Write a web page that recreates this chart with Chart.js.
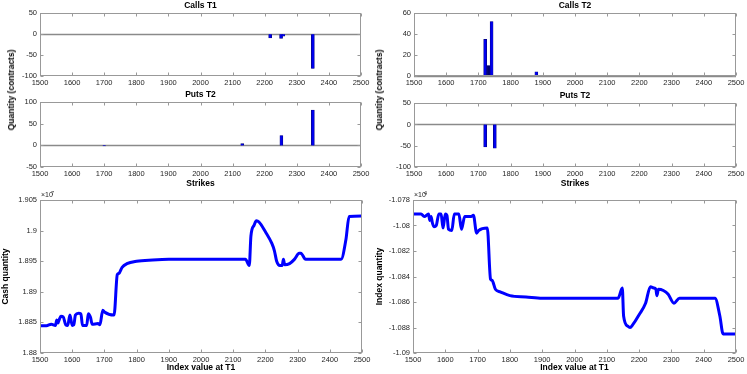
<!DOCTYPE html>
<html>
<head>
<meta charset="utf-8">
<script src="https://cdn.jsdelivr.net/npm/chart.js@4.4.0/dist/chart.umd.min.js"></script>
<style>
html, body { margin: 0; padding: 0; background: #fff; overflow: hidden; }
#wrap { position: relative; width: 747px; height: 374px; }
canvas { position: absolute; }
.ylab { position: absolute; font: bold 8.5px "Liberation Sans", Arial, sans-serif; color: #000;
        transform: translate(-50%, -50%) rotate(-90deg); white-space: nowrap; }
</style>
</head>
<body>
<div id="wrap">
  <canvas id="c1" width="374" height="90" style="left:0;top:0"></canvas>
  <canvas id="c2" width="373" height="90" style="left:374px;top:0"></canvas>
  <canvas id="c3" width="374" height="101" style="left:0;top:89px"></canvas>
  <canvas id="c4" width="373" height="100" style="left:374px;top:90px"></canvas>
  <canvas id="c5" width="374" height="184" style="left:0;top:190px"></canvas>
  <canvas id="c6" width="373" height="184" style="left:374px;top:190px"></canvas>
  <div class="ylab" style="left:11px;top:90px">Quantity (contracts)</div>
  <div class="ylab" style="left:379px;top:90px">Quantity (contracts)</div>
</div>
<script>
// option positions (strike, contracts)
const callsT1Strikes = [2217, 2251, 2258, 2350];
const callsT1Qty     = [-9, -10, -5, -82];
const callsT2Strikes = [1721, 1731, 1741, 1880];
const callsT2Qty     = [35, 10, 52, 4];
const putsT2LStrikes = [1700, 2130, 2252, 2350];
const putsT2LQty     = [-1, 4, 23, 82];
const putsT2RStrikes = [1721, 1751];
const putsT2RQty     = [-53, -56];

// cash quantity (x 1e7) against index value at T1
const cashX = [1500,1520,1535,1548,1552,1556,1560,1565,1572,1580,1586,1593,1600,1605,1610,1620,1627,1632,1645,1650,
               1657,1662,1680,1686,1695,1700,1730,1740,1745,1755,1770,1800,1850,1900,2000,2138,2150,2155,2165,2172,
               2180,2200,2220,2228,2235,2245,2252,2256,2260,2275,2290,2305,2310,2325,2435,2450,2460,2500];
const cashQty = [1.88446,1.88446,1.8847,1.8845,1.8854,1.8849,1.8855,1.8860,1.8859,1.8846,1.8845,1.8862,1.8845,1.8846,1.8862,1.8865,1.8864,1.8845,1.8845,1.8864,
                 1.8858,1.8847,1.8848,1.8846,1.8870,1.8867,1.8862,1.8928,1.8930,1.8940,1.8946,1.8950,1.8952,1.8953,1.8953,1.8953,1.8943,1.8991,1.9009,1.9016,
                 1.9014,1.8998,1.8979,1.8967,1.8950,1.8943,1.8943,1.8953,1.8944,1.8946,1.8953,1.8963,1.8963,1.8953,1.8953,1.8985,1.9023,1.9024];

// index quantity (x 1e4) against index value at T1
const idxX = [1500,1525,1535,1548,1552,1556,1560,1565,1572,1580,1587,1593,1600,1605,1610,1620,1628,1642,1650,1660,
              1680,1687,1697,1703,1730,1740,1745,1755,1770,1800,1850,1900,2000,2135,2148,2152,2165,2172,2180,2200,
              2220,2235,2245,2252,2255,2260,2275,2290,2308,2325,2435,2450,2460,2500];
const idxQty = [-1.0791,-1.0791,-1.0793,-1.0791,-1.0796,-1.0793,-1.0798,-1.0801,-1.0800,-1.0791,-1.0791,-1.0802,-1.0791,-1.0792,-1.0803,-1.0804,-1.0791,-1.0791,-1.0803,-1.0793,
                -1.0793,-1.0792,-1.0806,-1.0804,-1.0802,-1.0842,-1.0843,-1.0850,-1.0852,-1.0855,-1.0856,-1.0857,-1.0857,-1.0857,-1.0849,-1.0871,-1.0879,-1.0880,-1.0878,-1.0870,
                -1.0861,-1.0848,-1.0849,-1.0850,-1.0855,-1.0850,-1.0851,-1.0854,-1.0861,-1.0857,-1.0857,-1.0871,-1.0885,-1.0885];

const FAM = '"Liberation Sans", Arial, sans-serif';
const tickFont = { family: FAM, size: 7.5 };
const labFont = { family: FAM, size: 8.5, weight: 'bold' };

// matlab style box, inward ticks, zero baseline, exponent label
const frame = {
    id: 'frame',
    beforeDatasetsDraw(chart, args, opts) {
        if (!opts.zero) return;
        const { ctx, chartArea: a, scales: { y } } = chart;
        const py = Math.round(y.getPixelForValue(0)) + 0.5;
        ctx.save();
        ctx.strokeStyle = '#8a8a8a';
        ctx.lineWidth = 1.5;
        ctx.beginPath();
        ctx.moveTo(a.left, py);
        ctx.lineTo(a.right, py);
        ctx.stroke();
        ctx.restore();
    },
    afterDatasetsDraw(chart, args, opts) {
        const { ctx, chartArea: a, scales: { x, y } } = chart;
        ctx.save();
        ctx.strokeStyle = '#999';
        ctx.lineWidth = 1;
        const L = Math.round(a.left) + 0.5, R = Math.round(a.right) - 0.5;
        const T = Math.round(a.top) + 0.5, B = Math.round(a.bottom) - 0.5;
        ctx.strokeRect(L, T, R - L, B - T);
        ctx.beginPath();
        x.ticks.forEach(t => {
            const px = Math.round(x.getPixelForValue(t.value)) + 0.5;
            ctx.moveTo(px, B); ctx.lineTo(px, B - 3);
            ctx.moveTo(px, T); ctx.lineTo(px, T + 3);
        });
        y.ticks.forEach(t => {
            const py = Math.round(y.getPixelForValue(t.value)) + 0.5;
            ctx.moveTo(L, py); ctx.lineTo(L + 3, py);
            ctx.moveTo(R, py); ctx.lineTo(R - 3, py);
        });
        ctx.stroke();
        if (opts.exp) {
            ctx.fillStyle = '#262626';
            ctx.textBaseline = 'middle';
            ctx.font = '7px ' + FAM;
            ctx.fillText('\u00d710', a.left + 1, a.top - 4.5);
            ctx.font = '5.5px ' + FAM;
            ctx.fillText(opts.exp, a.left + 11, a.top - 7);
        }
        ctx.restore();
    }
};

function xAxis(title, h) {
    return {
        type: 'linear', min: 1500, max: 2500, offset: false,
        grid: { display: false, drawTicks: false }, border: { display: false },
        ticks: { stepSize: 100, autoSkip: false, maxRotation: 0, padding: 2, color: '#262626', font: tickFont,
                 callback: v => String(v) },
        title: { display: !!title, text: title, color: '#000', font: labFont, padding: { top: 0, bottom: 1 } },
        afterFit: s => { s.height = h; }
    };
}

function yAxis(min, max, step, w, title, fmt) {
    return {
        min: min, max: max,
        grid: { display: false, drawTicks: false }, border: { display: false },
        ticks: { stepSize: step, padding: 3, color: '#262626', font: tickFont, callback: fmt || (v => String(v)) },
        title: { display: !!title, text: title, color: '#000', font: labFont, padding: { top: 1, bottom: 0 } },
        afterFit: s => { s.width = w; }
    };
}

function barChart(id, strikes, qty, colors, yr, title, xTitle, xh, padRight) {
    return new Chart(document.getElementById(id), {
        type: 'bar',
        data: {
            datasets: [{
                data: strikes.map((s, i) => ({ x: s, y: qty[i] })),
                backgroundColor: colors,
                borderColor: '#00007a',
                borderWidth: 0.6,
                barThickness: 3,
                grouped: false
            }]
        },
        options: {
            responsive: false, animation: false,
            layout: { padding: { top: 0, right: padRight, bottom: 0, left: 0 } },
            plugins: {
                legend: { display: false }, tooltip: { enabled: false },
                title: { display: true, text: title, fullSize: false, color: '#000', font: labFont, padding: { top: 1, bottom: 2 } },
                frame: { zero: true }
            },
            scales: { x: xAxis(xTitle, xh), y: yAxis(yr[0], yr[1], yr[2], 40) }
        },
        plugins: [frame]
    });
}

function lineChart(id, xs, ys, yr, yTitle, exp, yw, fmt, padRight) {
    return new Chart(document.getElementById(id), {
        type: 'line',
        data: {
            datasets: [{
                data: xs.map((x, i) => ({ x: x, y: ys[i] })),
                borderColor: '#0000ff',
                borderWidth: 3,
                pointRadius: 0,
                cubicInterpolationMode: 'monotone'
            }]
        },
        options: {
            responsive: false, animation: false,
            layout: { padding: { top: 10, right: padRight, bottom: 0, left: 0 } },
            plugins: { legend: { display: false }, tooltip: { enabled: false }, frame: { exp: exp } },
            scales: { x: xAxis('Index value at T1', 21), y: yAxis(yr[0], yr[1], yr[2], yw, yTitle, fmt) }
        },
        plugins: [frame]
    });
}

const blue = '#0000ee';
barChart('c1', callsT1Strikes, callsT1Qty, blue, [-100, 50, 50], 'Calls T1', '', 14, 13);
barChart('c2', callsT2Strikes, callsT2Qty, [blue, '#00006b', blue, blue], [0, 60, 20], 'Calls T2', '', 14, 11);
barChart('c3', putsT2LStrikes, putsT2LQty, blue, [-50, 100, 50], 'Puts T2', 'Strikes', 23, 13);
barChart('c4', putsT2RStrikes, putsT2RQty, blue, [-100, 50, 50], 'Puts T2', 'Strikes', 23, 11);

const trim3 = v => String(+v.toFixed(3));
lineChart('c5', cashX, cashQty, [1.88, 1.905, 0.005], 'Cash quantity', '7', 40, trim3, 12);
lineChart('c6', idxX, idxQty, [-1.09, -1.078, 0.002], 'Index quantity', '4', 39, trim3, 11);
</script>
</body>
</html>
